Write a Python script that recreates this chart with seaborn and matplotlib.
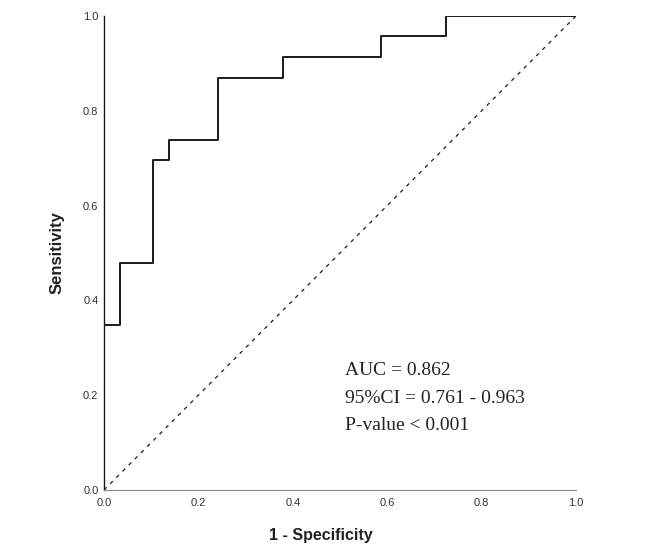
import matplotlib
matplotlib.use("Agg")
import matplotlib.pyplot as plt
import seaborn as sns
import pandas as pd

fpr = [0.0, 0.0, 0.034, 0.034, 0.103, 0.103, 0.138, 0.138, 0.241, 0.241, 0.379, 0.379, 0.586, 0.586, 0.724, 0.724, 1.0]
tpr = [0.0, 0.348, 0.348, 0.478, 0.478, 0.696, 0.696, 0.739, 0.739, 0.870, 0.870, 0.913, 0.913, 0.957, 0.957, 1.0, 1.0]
ref_line = [0.0, 1.0]
ticks = [0.0, 0.2, 0.4, 0.6, 0.8, 1.0]
tick_labels = ["0.0", "0.2", "0.4", "0.6", "0.8", "1.0"]
stats_text = ["AUC = 0.862", "95%CI = 0.761 - 0.963", "P-value < 0.001"]

sns.set_style("white")
plt.rcParams["font.family"] = ["Liberation Sans", "DejaVu Sans"]

fig = plt.figure(figsize=(6.47, 5.53), dpi=100)
ax = fig.add_axes([0.1607, 0.1139, 0.7296, 0.8572])

df = pd.DataFrame({"fpr": fpr, "tpr": tpr})
sns.lineplot(data=df, x="fpr", y="tpr", sort=False, estimator=None, color="#1a1a1a", linewidth=1.4, ax=ax)
sns.lineplot(x=ref_line, y=ref_line, color="#1a1a1a", linewidth=0.9, linestyle=(0, (3, 4)), ax=ax)

ax.set_xlim(0, 1)
ax.set_ylim(0, 1)
ax.set_xticks(ticks)
ax.set_xticklabels(tick_labels)
ax.set_yticks(ticks)
ax.set_yticklabels(tick_labels)
ax.tick_params(axis="both", length=0, labelsize=8, colors="#333333")
ax.tick_params(axis="x", pad=6)
ax.tick_params(axis="y", pad=4)

for s in ["top", "right"]:
    ax.spines[s].set_visible(False)
ax.spines["left"].set_color("#1a1a1a")
ax.spines["left"].set_linewidth(1.0)
ax.spines["bottom"].set_color("#888888")
ax.spines["bottom"].set_linewidth(0.8)

ax.set_xlabel("1 - Specificity", fontsize=11.5, fontweight="bold", color="#222222")
ax.set_ylabel("Sensitivity", fontsize=12, fontweight="bold", color="#222222")
ax.xaxis.set_label_coords(0.46, -0.081)
ax.yaxis.set_label_coords(-0.083, 0.5)

for i, t in enumerate(stats_text):
    ax.text(0.51, 0.252 - i * 0.058, t, transform=ax.transAxes, fontsize=14,
            family=["Liberation Serif", "DejaVu Serif"], color="#222222", va="center", ha="left")

fig.savefig("out.png", dpi=100)
